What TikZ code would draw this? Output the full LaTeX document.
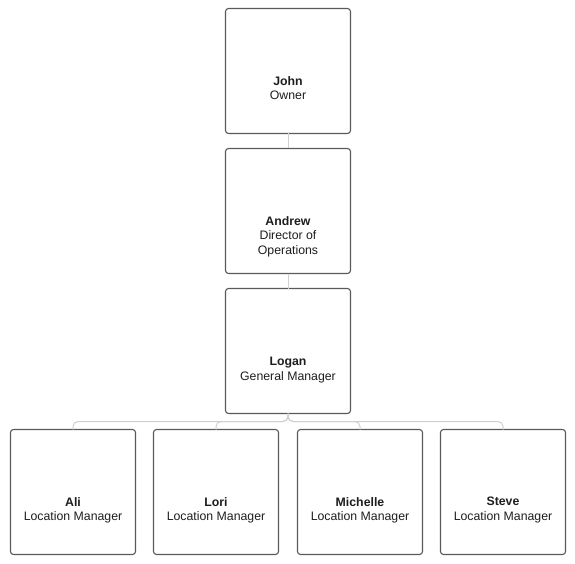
\documentclass[tikz,border=0pt]{standalone}
\usepackage{fontspec}
\setmainfont{Liberation Sans}
\definecolor{boxline}{HTML}{5A5A5A}
\definecolor{linkline}{HTML}{D0D0D0}
\definecolor{txt}{HTML}{1E1E1E}
\tikzset{
  person/.style={draw=boxline, line width=1.1pt, rounded corners=3pt, fill=white,
    minimum width=125pt, minimum height=125pt, inner sep=0pt, outer sep=0pt},
  lbl/.style={anchor=north, align=center, text=txt, font=\fontsize{12.3}{14.8}\selectfont, inner sep=0pt},
  link/.style={draw=linkline, line width=1pt, rounded corners=5pt}
}
\newcommand{\pname}[1]{\textbf{#1}}
\begin{document}
\begin{tikzpicture}[x=1pt,y=-1pt]
\useasboundingbox (0,0) rectangle (575,564);
\node[person] (john) at (288,71) {};
\node[person] (andrew) at (288,211) {};
\node[person] (logan) at (288,351) {};
\node[person] (ali) at (73,492) {};
\node[person] (lori) at (216,492) {};
\node[person] (michelle) at (360,492) {};
\node[person] (steve) at (503,492) {};
\node[lbl] (johnt) at (288,76) {\pname{John}\\Owner};
\node[lbl] (andrewt) at (288,216) {\pname{Andrew}\\Director of\\Operations};
\node[lbl] (logant) at (288,357) {\pname{Logan}\\General Manager};
\node[lbl] (alit) at (73,497) {\pname{Ali}\\Location Manager};
\node[lbl] (lorit) at (216,497) {\pname{Lori}\\Location Manager};
\node[lbl] (michellet) at (360,497) {\pname{Michelle}\\Location Manager};
\node[lbl] (stevet) at (503,497) {\pname{Steve}\\Location Manager};
\draw[link] (john.south) -- (andrew.north);
\draw[link] (andrew.south) -- (logan.north);
\foreach \c in {ali,lori,michelle,steve}{
  \draw[link] (logan.south) -- ++(0,8) -| (\c.north);
}
\end{tikzpicture}
\end{document}
